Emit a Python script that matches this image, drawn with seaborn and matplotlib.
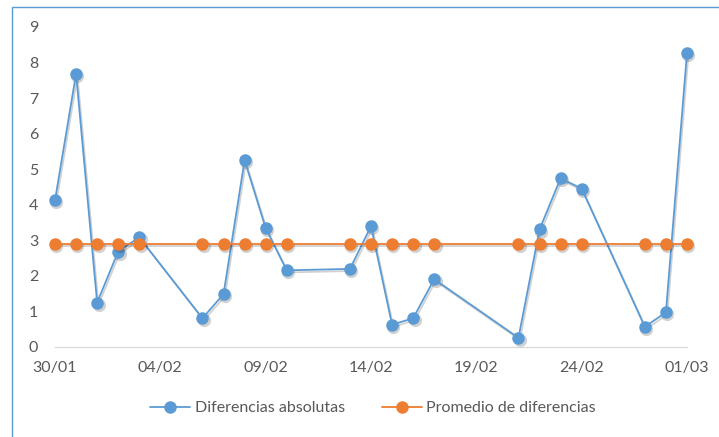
import matplotlib
matplotlib.use("Agg")
import matplotlib.pyplot as plt
import matplotlib.dates as mdates
from matplotlib.patches import Rectangle
from matplotlib.transforms import ScaledTranslation
import pandas as pd
import seaborn as sns

# Daily observations (day/month)
fechas = ["2023-01-30", "2023-01-31", "2023-02-01", "2023-02-02", "2023-02-03",
          "2023-02-06", "2023-02-07", "2023-02-08", "2023-02-09", "2023-02-10",
          "2023-02-13", "2023-02-14", "2023-02-15", "2023-02-16", "2023-02-17",
          "2023-02-21", "2023-02-22", "2023-02-23", "2023-02-24", "2023-02-27",
          "2023-02-28", "2023-03-01"]
diferencias = [4.12, 7.68, 1.24, 2.68, 3.08, 0.80, 1.48, 5.25, 3.34, 2.15, 2.19,
               3.39, 0.62, 0.80, 1.90, 0.25, 3.30, 4.74, 4.45, 0.56, 0.97, 8.27]
promedio = [2.88, 2.88, 2.88, 2.88, 2.88, 2.88, 2.88, 2.88, 2.88, 2.88, 2.88,
            2.88, 2.88, 2.88, 2.88, 2.88, 2.88, 2.88, 2.88, 2.88, 2.88, 2.88]
series = ["Diferencias absolutas", "Promedio de diferencias"]
x_ticks = ["2023-01-30", "2023-02-04", "2023-02-09", "2023-02-14",
           "2023-02-19", "2023-02-24", "2023-03-01"]
y_ticks = [0, 1, 2, 3, 4, 5, 6, 7, 8, 9]

colores = {series[0]: "#5B9BD5", series[1]: "#ED7D31"}
gris = "#595959"

df = pd.concat([
    pd.DataFrame({"fecha": pd.to_datetime(fechas), "valor": diferencias, "serie": series[0]}),
    pd.DataFrame({"fecha": pd.to_datetime(fechas), "valor": promedio, "serie": series[1]}),
])

sns.set_style("white")
plt.rcParams["font.family"] = ["Lato", "DejaVu Sans"]

fig = plt.figure(figsize=(7.19, 4.37), dpi=100)
ax = fig.add_axes([55 / 719, 90.3 / 437, (687 - 55) / 719, (346.7 - 27) / 437])

sns.lineplot(data=df, x="fecha", y="valor", hue="serie", hue_order=series,
             palette=colores, marker="o", markersize=9, markeredgewidth=0,
             linewidth=1.3, ax=ax, legend=False, clip_on=False)

# soft drop shadow under each series
shift = ScaledTranslation(1 / 72, -1.5 / 72, fig.dpi_scale_trans)
for i, ln in enumerate(list(ax.lines)):
    ln.set_zorder(3 + i)
    sh, = ax.plot(ln.get_xdata(), ln.get_ydata(), color="#000000", alpha=0.18,
                  marker="o", markersize=9.5, markeredgewidth=0, linewidth=1.3,
                  clip_on=False, zorder=2.5 + i)
    sh.set_transform(ln.get_transform() + shift)

ax.set_xlim(pd.Timestamp(fechas[0]), pd.Timestamp(fechas[-1]))
ax.set_ylim(0, 9)
ax.set_xticks(pd.to_datetime(x_ticks))
ax.xaxis.set_major_formatter(mdates.DateFormatter("%d/%m"))
ax.set_yticks(y_ticks)
ax.set_xlabel("")
ax.set_ylabel("")
ax.tick_params(axis="both", length=0, labelsize=11.5, colors=gris)
ax.tick_params(axis="y", pad=12)
ax.tick_params(axis="x", pad=10)
for s in ["top", "right", "left"]:
    ax.spines[s].set_visible(False)
ax.spines["bottom"].set_color("#D9D9D9")
ax.spines["bottom"].set_linewidth(0.9)

handles = [plt.Line2D([], [], color=colores[s], marker="o", markersize=9,
                      markeredgewidth=0, linewidth=1.3) for s in series]
fig.legend(handles, series, loc="center", bbox_to_anchor=(373 / 719, 1 - 408 / 437),
           ncol=2, frameon=False, fontsize=11.5, labelcolor=gris,
           handlelength=2.5, handletextpad=0.3, columnspacing=2.3)

# chart-area border
fig.patches.append(Rectangle((12 / 719, -0.2), 1.2, 1.2 - 6.7 / 437,
                             transform=fig.transFigure, fill=False,
                             edgecolor="#5B9BD5", linewidth=1.0))

fig.savefig("out.png", dpi=100)
